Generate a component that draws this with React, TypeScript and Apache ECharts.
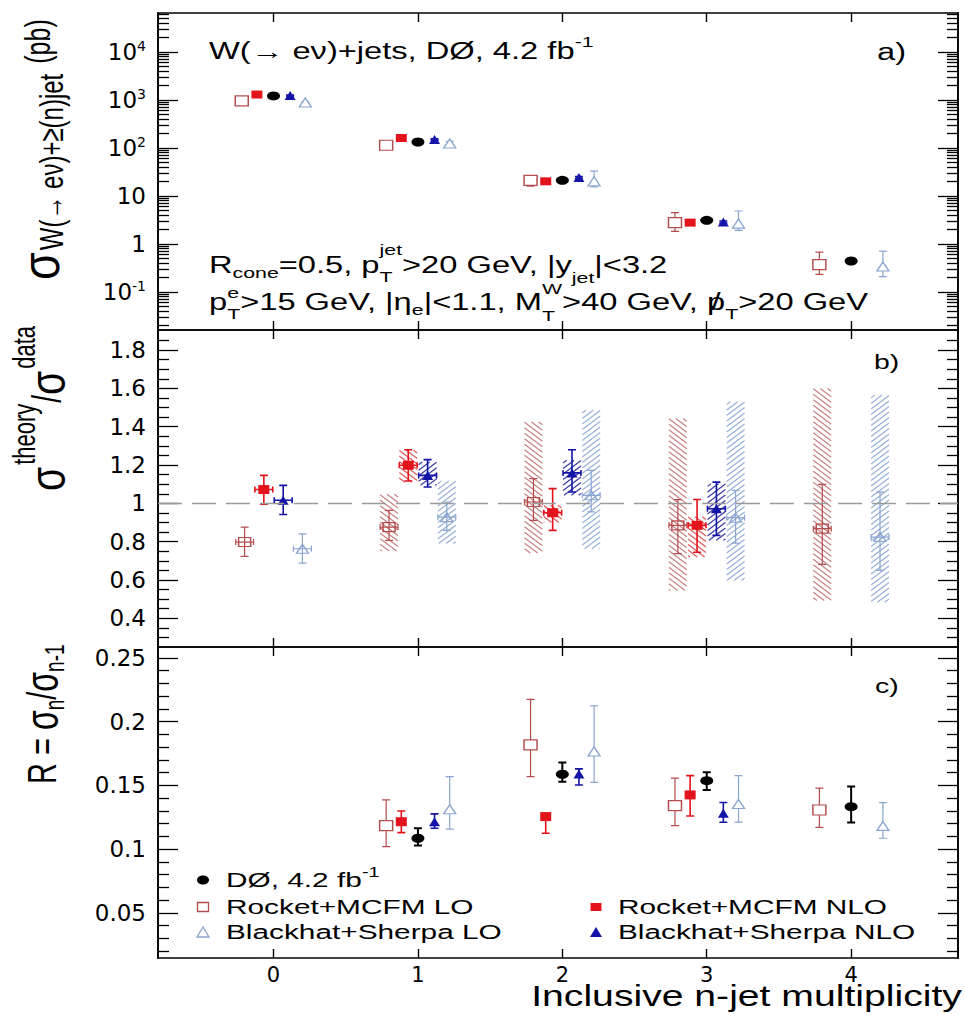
import React, { useEffect, useRef } from "react";
import * as echarts from "echarts";

// ---------------- data ----------------
const N_JETS = [0, 1, 2, 3, 4];

// a) cross sections (pb)
const A_DATA = [1211, 133, 21.2, 3.12, 0.443];
const A_DATA_LO = [1170, 128, 20.3, 2.96, 0.405];
const A_DATA_HI = [1250, 138, 22.2, 3.29, 0.485];
const A_RLO = [953, 114, 21.2, 2.79, 0.372];
const A_RLO_LO = [925, 106, 16.0, 1.84, 0.234];
const A_RLO_HI = [982, 122, 26.2, 4.5, 0.68];
const A_RNLO = [1296, 161, 20.2, 2.79, null];
const A_RNLO_LO = [1260, 155, 19.4, 2.66, null];
const A_RNLO_HI = [1330, 167, 21.0, 2.92, null];
const A_BNLO = [1235, 150, 24.2, 2.87, null];
const A_BNLO_LO = [1200, 144, 23.0, 2.72, null];
const A_BNLO_HI = [1270, 156, 25.4, 3.02, null];
const A_BLO = [883, 124, 20.2, 2.66, 0.34];
const A_BLO_LO = [850, 112, 15.4, 1.93, 0.21];
const A_BLO_HI = [915, 137, 33.0, 4.87, 0.71];

// b) theory / data
const B_RLO = [0.798, 0.876, 1.007, 0.885, 0.868];
const B_RLO_LO = [0.723, 0.807, 0.911, 0.737, 0.681];
const B_RLO_HI = [0.876, 0.963, 1.129, 1.019, 1.099];
const B_RLO_BAND_LO = [null, 0.751, 0.74, 0.545, 0.493];
const B_RLO_BAND_HI = [null, 1.047, 1.425, 1.443, 1.6];
const B_RNLO = [1.072, 1.199, 0.951, 0.885, null];
const B_RNLO_LO = [0.995, 1.117, 0.859, 0.745, null];
const B_RNLO_HI = [1.146, 1.28, 1.077, 1.02, null];
const B_RNLO_BAND_LO = [null, 1.11, 0.9, 0.72, null];
const B_RNLO_BAND_HI = [null, 1.277, 0.99, 0.93, null];
const B_BNLO = [1.016, 1.146, 1.159, 0.972, null];
const B_BNLO_LO = [0.942, 1.085, 1.059, 0.833, null];
const B_BNLO_HI = [1.094, 1.228, 1.28, 1.111, null];
const B_BNLO_BAND_LO = [null, 1.094, 1.042, 0.807, null];
const B_BNLO_BAND_HI = [null, 1.216, 1.225, 1.103, null];
const B_BLO = [0.763, 0.928, 1.042, 0.925, 0.824];
const B_BLO_LO = [0.688, 0.859, 0.955, 0.792, 0.65];
const B_BLO_HI = [0.841, 1.007, 1.172, 1.068, 1.059];
const B_BLO_BAND_LO = [null, 0.79, 0.763, 0.597, 0.484];
const B_BLO_BAND_HI = [null, 1.117, 1.486, 1.53, 1.565];

// c) R = sigma_n / sigma_(n-1)
const C_DATA = [null, 0.1086, 0.1588, 0.1538, 0.1334];
const C_DATA_LO = [null, 0.103, 0.153, 0.1465, 0.1209];
const C_DATA_HI = [null, 0.1165, 0.168, 0.1604, 0.1491];
const C_RLO = [null, 0.1185, 0.1818, 0.1342, 0.1308];
const C_RLO_LO = [null, 0.102, 0.157, 0.1185, 0.1172];
const C_RLO_HI = [null, 0.1387, 0.2176, 0.1557, 0.148];
const C_RNLO = [null, 0.1216, 0.1256, 0.1426, null];
const C_RNLO_LO = [null, 0.113, 0.1125, 0.1261, null];
const C_RNLO_HI = [null, 0.13, 0.128, 0.1577, null];
const C_BNLO = [null, 0.1216, 0.159, 0.1282, null];
const C_BNLO_LO = [null, 0.1165, 0.1504, 0.1212, null];
const C_BNLO_HI = [null, 0.1277, 0.163, 0.1366, null];
const C_BLO = [null, 0.1314, 0.1766, 0.1355, 0.1183];
const C_BLO_LO = [null, 0.1157, 0.1525, 0.1212, 0.1086];
const C_BLO_HI = [null, 0.157, 0.2124, 0.1577, 0.1366];

// tick values
const X_TICKS = [0, 1, 2, 3, 4];
const A_TICKS = [-1, 0, 1, 2, 3, 4]; // log10 of 0.1 ... 10^4
const B_TICKS = [0.4, 0.6, 0.8, 1, 1.2, 1.4, 1.6, 1.8];
const C_TICKS = [0.05, 0.1, 0.15, 0.2, 0.25];

// ---------------- layout / style ----------------
const X_MIN = -0.8, X_MAX = 4.74;
const A_MIN = -1.79, A_MAX = 4.81;
const B_MIN = 0.25, B_MAX = 1.905;
const C_MIN = 0.0147, C_MAX = 0.2586;

const OFF_AC = { rLO: -0.22, rNLO: -0.115, data: 0, bNLO: 0.115, bLO: 0.22 };
const OFF_B = { rLO: -0.2, rNLO: -0.067, bNLO: 0.067, bLO: 0.2 };

const COL_DATA = "#000000";
const COL_RLO = "#b34d4d";
const COL_RNLO = "#e3131b";
const COL_BNLO = "#1414a8";
const COL_BLO = "#8aa5d0";
const H_RLO = "#c98282";
const H_RNLO = "#e25a5a";
const H_BNLO = "#3a3aa8";
const H_BLO = "#98b0d8";

const FONT = "Liberation Sans";
const TICK_FONT = "DejaVu Sans";
const SX = 1.42;

const A_MINOR: number[] = [];
for (let d = -2; d <= 4; d++) for (let k = 2; k <= 9; k++) {
  const v = d + Math.log10(k);
  if (v > A_MIN + 0.005 && v < A_MAX - 0.005) A_MINOR.push(v);
}
const B_MINOR: number[] = [];
for (let i = 6; i <= 38; i++) {
  const v = Math.round(i * 5) / 100;
  if (v < B_MAX - 0.01 && !B_TICKS.some((t) => Math.abs(t - v) < 1e-6)) B_MINOR.push(v);
}
const C_MINOR: number[] = [];
for (let i = 2; i <= 25; i++) {
  const v = i / 100;
  if (!C_TICKS.some((t) => Math.abs(t - v) < 1e-6)) C_MINOR.push(v);
}

// ---------------- helpers ----------------
let mctx: CanvasRenderingContext2D | null = null;
function tw(text: string, size: number): number {
  if (!mctx) mctx = document.createElement("canvas").getContext("2d");
  mctx!.font = `${size}px "${FONT}"`;
  return mctx!.measureText(text).width;
}
function txt(text: string, x: number, y: number, size: number, color: string, align = "left"): any {
  return {
    type: "text", x, y, silent: true,
    style: { text, fontSize: size, fontFamily: FONT, fill: color, align, verticalAlign: "middle", textAlign: align, textVerticalAlign: "middle" },
  };
}
type Seg = { t?: string; size?: number; wScale?: number; dy?: number; sub?: string; sup?: string; ss?: number; subDy?: number; supDy?: number; pre?: number; sg?: number; slash?: boolean };
function mathGroup(segs: Seg[], base: number, color: string, x: number, y: number, o: { rot?: number; sx?: number; sy?: number; right?: boolean } = {}) {
  const kids: any[] = [];
  let cx = 0;
  for (const s of segs) {
    cx += s.pre || 0;
    const size = s.size || base;
    const dy = s.dy || 0;
    const ws = s.wScale || 1;
    let w = 0;
    if (s.t) {
      w = tw(s.t, size) * ws;
      const el = txt(s.t, cx, dy, size, color);
      if (ws !== 1) el.scaleX = ws;
      kids.push(el);
      if (s.slash) kids.push(txt("/", cx + w / 2, dy, size, color, "center"));
    }
    const ss = s.ss || Math.round(size * 0.62);
    const sx0 = cx + w + (s.sg || 0);
    let w2 = 0;
    if (s.sub) { kids.push(txt(s.sub, sx0, dy + (s.subDy ?? size * 0.35), ss, color)); w2 = Math.max(w2, tw(s.sub, ss)); }
    if (s.sup) { kids.push(txt(s.sup, sx0, dy + (s.supDy ?? -size * 0.4), ss, color)); w2 = Math.max(w2, tw(s.sup, ss)); }
    cx = w2 ? sx0 + w2 : cx + w;
  }
  if (o.right) kids.forEach((k) => (k.x -= cx));
  return { type: "group", x, y, rotation: o.rot || 0, scaleX: o.sx || 1, scaleY: o.sy || 1, children: kids };
}

const L10 = (v: number) => Math.log10(v);
function pts(vals: (number | null)[], lo: (number | null)[], hi: (number | null)[], off: number, tf = (v: number) => v) {
  const out: number[][] = [];
  N_JETS.forEach((n, i) => {
    const v = vals[i];
    if (v == null) return;
    out.push([n + off, tf(v), tf(lo[i] as number), tf(hi[i] as number)]);
  });
  return out;
}
function bandPts(lo: (number | null)[], hi: (number | null)[], off: number) {
  const out: number[][] = [];
  N_JETS.forEach((n, i) => {
    if (lo[i] == null || hi[i] == null) return;
    out.push([n + off, lo[i] as number, hi[i] as number]);
  });
  return out;
}

function hatchPath(x0: number, y0: number, x1: number, y1: number, step: number, dir: string) {
  const m = 0.75;
  let d = "";
  if (dir === "back") {
    const c0 = y0 - m * x1, c1 = y1 - m * x0;
    for (let c = c0 + step / 2; c < c1; c += step) {
      const xa = Math.max(x0, (y0 - c) / m), xb = Math.min(x1, (y1 - c) / m);
      if (xb > xa + 0.3) d += `M${xa.toFixed(1)} ${(m * xa + c).toFixed(1)}L${xb.toFixed(1)} ${(m * xb + c).toFixed(1)}`;
    }
  } else {
    const c0 = y0 + m * x0, c1 = y1 + m * x1;
    for (let c = c0 + step / 2; c < c1; c += step) {
      const xa = Math.max(x0, (c - y1) / m), xb = Math.min(x1, (c - y0) / m);
      if (xb > xa + 0.3) d += `M${xa.toFixed(1)} ${(c - m * xa).toFixed(1)}L${xb.toFixed(1)} ${(c - m * xb).toFixed(1)}`;
    }
  }
  return d || "M0 0";
}

function errSeries(p: number, data: number[][], color: string, lw: number, hBar = 0) {
  return {
    type: "custom", xAxisIndex: 2 * p, yAxisIndex: 4 * p, data, encode: { x: 0, y: 1 }, silent: true, z: 3,
    renderItem: (params: any, api: any) => {
      const x = api.value(0), v = api.value(1), lo = api.value(2), hi = api.value(3);
      const a = api.coord([x, lo]), b = api.coord([x, hi]);
      const cap = 4;
      let d = `M${a[0]} ${a[1]}L${b[0]} ${b[1]}`;
      d += `M${a[0] - cap} ${a[1]}L${a[0] + cap} ${a[1]}M${b[0] - cap} ${b[1]}L${b[0] + cap} ${b[1]}`;
      if (hBar) {
        const l = api.coord([x - hBar, v]), r = api.coord([x + hBar, v]);
        d += `M${l[0]} ${l[1]}L${r[0]} ${r[1]}M${l[0]} ${l[1] - 3}L${l[0]} ${l[1] + 3}M${r[0]} ${r[1] - 3}L${r[0]} ${r[1] + 3}`;
      }
      return { type: "path", shape: { pathData: d }, style: { stroke: color, lineWidth: lw, fill: "none" } };
    },
  };
}
function bandSeries(p: number, data: number[][], color: string, dir: string) {
  return {
    type: "custom", xAxisIndex: 2 * p, yAxisIndex: 4 * p, data, encode: { x: 0, y: [1, 2] }, silent: true, z: 2,
    renderItem: (params: any, api: any) => {
      const x = api.value(0), lo = api.value(1), hi = api.value(2);
      const a = api.coord([x - 0.062, hi]), b = api.coord([x + 0.062, lo]);
      return { type: "path", shape: { pathData: hatchPath(a[0], a[1], b[0], b[1], 5.5, dir) }, style: { stroke: color, lineWidth: 1.2, fill: "none" } };
    },
  };
}
function markSeries(p: number, name: string, data: number[][], symbol: string, size: number[], fill: string, stroke: string, bw: number) {
  return {
    type: "scatter", name, xAxisIndex: 2 * p, yAxisIndex: 4 * p, silent: true, z: 4,
    data: data.map((d) => [d[0], d[1]]), symbol, symbolSize: size,
    itemStyle: { color: fill, borderColor: stroke, borderWidth: bw, opacity: 1 },
  };
}

function xAx(grid: number, pos: string, labels: boolean) {
  return {
    type: "value", gridIndex: grid, position: pos, min: X_MIN, max: X_MAX,
    axisLine: { show: true, onZero: false, lineStyle: { color: "#000", width: 1.6 } },
    axisTick: { show: true, inside: true, length: 9, customValues: X_TICKS, lineStyle: { color: "#000", width: 1.4 } },
    axisLabel: labels ? { show: true, customValues: X_TICKS, fontFamily: TICK_FONT, fontSize: 21, color: "#000", margin: 6 } : { show: false },
    splitLine: { show: false },
  };
}
function yAx(grid: number, pos: string, min: number, max: number, vals: number[], len: number, label?: any) {
  return {
    type: "value", gridIndex: grid, position: pos, min, max,
    axisLine: { show: true, onZero: false, lineStyle: { color: "#000", width: 1.6 } },
    axisTick: { show: true, inside: true, length: len, customValues: vals, lineStyle: { color: "#000", width: 1.3 } },
    axisLabel: label ? { show: true, customValues: vals, fontFamily: TICK_FONT, fontSize: 23, color: "#000", margin: 12, ...label } : { show: false },
    splitLine: { show: false },
  };
}
function yAxes(grid: number, min: number, max: number, major: number[], minor: number[], label: any) {
  return [
    yAx(grid, "left", min, max, major, 20, label),
    yAx(grid, "left", min, max, minor, 11),
    yAx(grid, "right", min, max, major, 20),
    yAx(grid, "right", min, max, minor, 11),
  ];
}

function buildOption() {
  const numFmt = (v: number) => String(parseFloat(v.toFixed(2)));
  const logFmt = (v: number) => (v === 0 ? "{b|1}" : v === 1 ? "{b|10}" : `{b|10}{s|${v}}`);

  const series: any[] = [];
  // panel a
  const aRLO = pts(A_RLO, A_RLO_LO, A_RLO_HI, OFF_AC.rLO, L10);
  const aRNLO = pts(A_RNLO, A_RNLO_LO, A_RNLO_HI, OFF_AC.rNLO, L10);
  const aData = pts(A_DATA, A_DATA_LO, A_DATA_HI, OFF_AC.data, L10);
  const aBNLO = pts(A_BNLO, A_BNLO_LO, A_BNLO_HI, OFF_AC.bNLO, L10);
  const aBLO = pts(A_BLO, A_BLO_LO, A_BLO_HI, OFF_AC.bLO, L10);
  series.push(errSeries(0, aRLO, COL_RLO, 1.2), errSeries(0, aRNLO, COL_RNLO, 1.6), errSeries(0, aData, COL_DATA, 2), errSeries(0, aBNLO, COL_BNLO, 1.6), errSeries(0, aBLO, COL_BLO, 1.2));
  series.push(
    markSeries(0, "Rocket+MCFM LO", aRLO, "rect", [13, 10], "#fff", COL_RLO, 1.3),
    markSeries(0, "Rocket+MCFM NLO", aRNLO, "rect", [11, 8], COL_RNLO, COL_RNLO, 0),
    markSeries(0, "DØ, 4.2 fb-1", aData, "circle", [13, 9], COL_DATA, COL_DATA, 0),
    markSeries(0, "Blackhat+Sherpa NLO", aBNLO, "triangle", [11, 9], COL_BNLO, COL_BNLO, 0),
    markSeries(0, "Blackhat+Sherpa LO", aBLO, "triangle", [12, 9], "#fff", COL_BLO, 1.3),
  );
  // panel b
  series.push(
    bandSeries(1, bandPts(B_RLO_BAND_LO, B_RLO_BAND_HI, OFF_B.rLO), H_RLO, "back"),
    bandSeries(1, bandPts(B_RNLO_BAND_LO, B_RNLO_BAND_HI, OFF_B.rNLO), H_RNLO, "back"),
    bandSeries(1, bandPts(B_BNLO_BAND_LO, B_BNLO_BAND_HI, OFF_B.bNLO), H_BNLO, "fwd"),
    bandSeries(1, bandPts(B_BLO_BAND_LO, B_BLO_BAND_HI, OFF_B.bLO), H_BLO, "fwd"),
  );
  series.push({
    type: "scatter", xAxisIndex: 2, yAxisIndex: 4, data: [], silent: true, z: 2,
    markLine: { silent: true, symbol: ["none", "none"], label: { show: false }, lineStyle: { color: "#9a9a9a", type: [24, 10], width: 1.3 }, data: [{ yAxis: 1 }] },
  });
  const bRLO = pts(B_RLO, B_RLO_LO, B_RLO_HI, OFF_B.rLO);
  const bRNLO = pts(B_RNLO, B_RNLO_LO, B_RNLO_HI, OFF_B.rNLO);
  const bBNLO = pts(B_BNLO, B_BNLO_LO, B_BNLO_HI, OFF_B.bNLO);
  const bBLO = pts(B_BLO, B_BLO_LO, B_BLO_HI, OFF_B.bLO);
  series.push(errSeries(1, bRLO, COL_RLO, 1.2, 0.062), errSeries(1, bRNLO, COL_RNLO, 1.6, 0.062), errSeries(1, bBNLO, COL_BNLO, 1.6, 0.062), errSeries(1, bBLO, COL_BLO, 1.2, 0.062));
  series.push(
    markSeries(1, "Rocket+MCFM LO", bRLO, "rect", [12, 9], "rgba(255,255,255,0)", COL_RLO, 1.3),
    markSeries(1, "Rocket+MCFM NLO", bRNLO, "rect", [11, 9], COL_RNLO, COL_RNLO, 0),
    markSeries(1, "Blackhat+Sherpa NLO", bBNLO, "triangle", [11, 9], COL_BNLO, COL_BNLO, 0),
    markSeries(1, "Blackhat+Sherpa LO", bBLO, "triangle", [12, 9], "rgba(255,255,255,0)", COL_BLO, 1.3),
  );
  // panel c
  const cRLO = pts(C_RLO, C_RLO_LO, C_RLO_HI, OFF_AC.rLO);
  const cRNLO = pts(C_RNLO, C_RNLO_LO, C_RNLO_HI, OFF_AC.rNLO);
  const cData = pts(C_DATA, C_DATA_LO, C_DATA_HI, OFF_AC.data);
  const cBNLO = pts(C_BNLO, C_BNLO_LO, C_BNLO_HI, OFF_AC.bNLO);
  const cBLO = pts(C_BLO, C_BLO_LO, C_BLO_HI, OFF_AC.bLO);
  series.push(errSeries(2, cRLO, COL_RLO, 1.2), errSeries(2, cRNLO, COL_RNLO, 1.6), errSeries(2, cData, COL_DATA, 2), errSeries(2, cBNLO, COL_BNLO, 1.6), errSeries(2, cBLO, COL_BLO, 1.2));
  series.push(
    markSeries(2, "Rocket+MCFM LO", cRLO, "rect", [13, 10], "#fff", COL_RLO, 1.3),
    markSeries(2, "Rocket+MCFM NLO", cRNLO, "rect", [11, 9], COL_RNLO, COL_RNLO, 0),
    markSeries(2, "DØ, 4.2 fb-1", cData, "circle", [13, 9], COL_DATA, COL_DATA, 0),
    markSeries(2, "Blackhat+Sherpa NLO", cBNLO, "triangle", [11, 9], COL_BNLO, COL_BNLO, 0),
    markSeries(2, "Blackhat+Sherpa LO", cBLO, "triangle", [12, 9], "#fff", COL_BLO, 1.3),
  );

  const K = "#000";
  const elements: any[] = [
    mathGroup([{ t: "W(→ eν)+jets, DØ, 4.2 fb", sup: "-1", ss: 15, supDy: -9 }], 23, K, 209, 51, { sx: SX }),
    mathGroup([{ t: "a)" }], 23, K, 877, 52, { sx: SX }),
    mathGroup([{ t: "b)" }], 20, K, 874, 362, { sx: SX }),
    mathGroup([{ t: "c)" }], 20, K, 875, 686, { sx: SX }),
    mathGroup([
      { t: "R", sub: "cone", ss: 15, subDy: 8 },
      { t: "=0.5, p", sub: "T", sup: "jet", ss: 15, subDy: 12, supDy: -15 },
      { t: ">20 GeV, |y", sub: "jet", ss: 15, subDy: 13 },
      { t: "|<3.2" },
    ], 23, K, 209, 265, { sx: SX }),
    mathGroup([
      { t: "p", sub: "T", sup: "e", ss: 15, subDy: 12, supDy: -9 },
      { t: ">15 GeV, |η", sub: "e", ss: 15, subDy: 8 },
      { t: "|<1.1, M", sub: "T", sup: "W", ss: 15, subDy: 14, supDy: -13 },
      { t: ">40 GeV, " },
      { t: "p", slash: true, sub: "T", ss: 15, subDy: 12 },
      { t: ">20 GeV" },
    ], 23, K, 209, 302, { sx: SX }),
    // y titles
    mathGroup([
      { t: "σ", size: 36, wScale: 1.25, sub: "W(→ eν)+≥(n)jet", ss: 24, subDy: 7, sg: 2 },
      { t: "(pb)", size: 25, pre: 10, dy: -2 },
    ], 24, K, 41, 280, { rot: Math.PI / 2, sy: SX }),
    mathGroup([
      { t: "σ", size: 35, wScale: 1.12, sup: "theory", ss: 22, supDy: -16, sg: 2 },
      { t: "/", size: 28, pre: 1 },
      { t: "σ", size: 35, wScale: 1.12, sup: "data", ss: 22, supDy: -16, sg: 2 },
    ], 30, K, 47, 491, { rot: Math.PI / 2, sy: SX }),
    mathGroup([
      { t: "R = ", size: 29 },
      { t: "σ", size: 32, sub: "n", ss: 19, subDy: 9 },
      { t: "/", size: 29 },
      { t: "σ", size: 32, sub: "n-1", ss: 19, subDy: 9 },
    ], 29, K, 42, 784, { rot: Math.PI / 2, sy: SX }),
    // x title
    mathGroup([{ t: "Inclusive n-jet multiplicity" }], 29, K, 962, 996, { sx: 1.35, right: true }),
    // legend
    { type: "ellipse", silent: true, shape: { cx: 203, cy: 880, rx: 6, ry: 4.5 }, style: { fill: COL_DATA } },
    { type: "rect", silent: true, shape: { x: 197.5, y: 902.5, width: 11, height: 9 }, style: { fill: "#fff", stroke: COL_RLO, lineWidth: 1.3 } },
    { type: "polygon", silent: true, shape: { points: [[197, 937], [209, 937], [203, 927]] }, style: { fill: "#fff", stroke: COL_BLO, lineWidth: 1.3 } },
    { type: "rect", silent: true, shape: { x: 590.5, y: 903, width: 11, height: 8 }, style: { fill: COL_RNLO } },
    { type: "polygon", silent: true, shape: { points: [[590, 937], [602, 937], [596, 927]] }, style: { fill: COL_BNLO } },
    mathGroup([{ t: "DØ, 4.2 fb", sup: "-1", ss: 14, supDy: -8 }], 21, K, 226, 880, { sx: SX }),
    mathGroup([{ t: "Rocket+MCFM LO" }], 21, K, 226, 907, { sx: SX }),
    mathGroup([{ t: "Blackhat+Sherpa LO" }], 21, K, 226, 932, { sx: SX }),
    mathGroup([{ t: "Rocket+MCFM NLO" }], 21, K, 618, 907, { sx: SX }),
    mathGroup([{ t: "Blackhat+Sherpa NLO" }], 21, K, 618, 932, { sx: SX }),
  ];

  return {
    animation: false,
    backgroundColor: "#ffffff",
    textStyle: { fontFamily: FONT },
    grid: [
      { left: 158, top: 13, width: 800, height: 317, containLabel: false, outerBoundsMode: "none" },
      { left: 158, top: 330, width: 800, height: 317, containLabel: false, outerBoundsMode: "none" },
      { left: 158, top: 647, width: 800, height: 311, containLabel: false, outerBoundsMode: "none" },
    ],
    xAxis: [xAx(0, "bottom", false), xAx(0, "top", false), xAx(1, "bottom", false), xAx(1, "top", false), xAx(2, "bottom", true), xAx(2, "top", false)],
    yAxis: [
      ...yAxes(0, A_MIN, A_MAX, A_TICKS, A_MINOR, {
        formatter: logFmt,
        rich: {
          b: { fontFamily: TICK_FONT, fontSize: 23, lineHeight: 26, color: "#000" },
          s: { fontFamily: TICK_FONT, fontSize: 14, lineHeight: 10, verticalAlign: "top", color: "#000" },
        },
      }),
      ...yAxes(1, B_MIN, B_MAX, B_TICKS, B_MINOR, { formatter: numFmt }),
      ...yAxes(2, C_MIN, C_MAX, C_TICKS, C_MINOR, { formatter: numFmt }),
    ],
    series,
    graphic: { elements },
  };
}

export default function App() {
  const ref = useRef<HTMLDivElement>(null);
  useEffect(() => {
    if (!ref.current) return;
    const chart = echarts.init(ref.current, null, { renderer: "svg" });
    chart.setOption(buildOption() as any);
    return () => chart.dispose();
  }, []);
  return <div ref={ref} style={{ position: "fixed", left: 0, top: 0, width: 965, height: 1014, background: "#fff" }} />;
}
